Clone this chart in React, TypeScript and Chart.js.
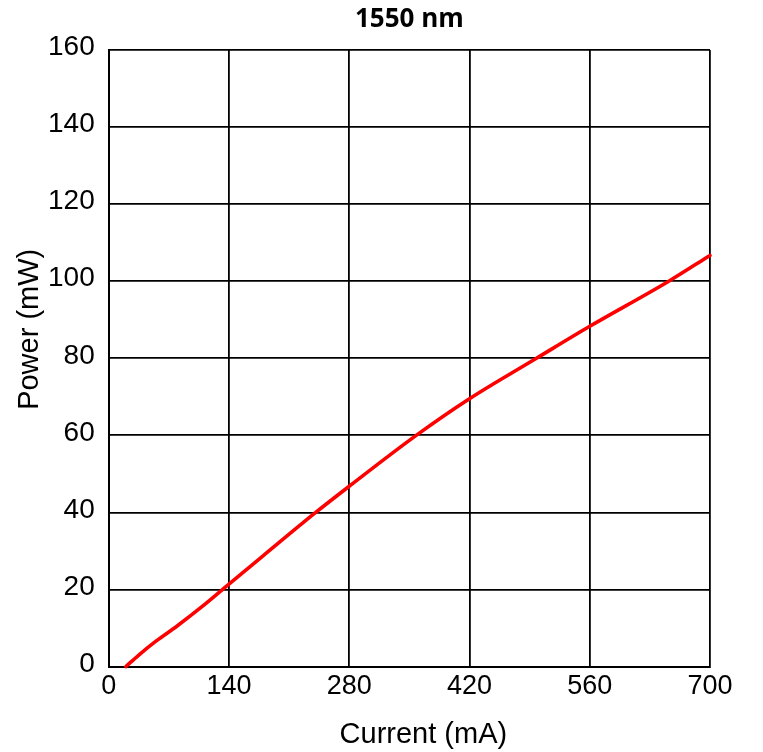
import React, { useEffect, useRef } from "react";
import { Chart, registerables } from "chart.js";

Chart.register(...registerables);

const currentMA = [20, 35, 55, 80, 110, 140, 180, 241, 280, 358, 420, 498, 560, 652, 700];
const powerMW = [0, 3, 6.6, 10.6, 15.8, 21.4, 28.8, 40, 46.8, 60, 69.5, 80, 88.3, 100, 106.7];
const xTicks = [0, 140, 280, 420, 560, 700];
const yTicks = [0, 20, 40, 60, 80, 100, 120, 140, 160];
const titleText = "1550 nm";
const xTitle = "Current (mA)";
const yTitle = "Power (mW)";

const FONT = "'Liberation Sans', Arial, sans-serif";

const axisTitles = {
  id: "axisTitles",
  afterDraw(chart: any) {
    const { ctx, chartArea } = chart;
    ctx.save();
    ctx.fillStyle = "#000";
    ctx.font = `29px ${FONT}`;
    ctx.textAlign = "center";
    ctx.textBaseline = "middle";
    const cx = (chartArea.left + chartArea.right) / 2 + 14;
    ctx.fillText(xTitle, cx, chart.height - 17);
    const cy = (chartArea.top + chartArea.bottom) / 2 - 29;
    ctx.translate(30, cy);
    ctx.rotate(-Math.PI / 2);
    ctx.fillText(yTitle, 0, 0);
    ctx.restore();
  },
};

export default function App() {
  const ref = useRef<HTMLCanvasElement | null>(null);
  useEffect(() => {
    if (!ref.current) return;
    const chart = new Chart(ref.current, {
      type: "line",
      data: {
        datasets: [
          {
            data: currentMA.map((x, i) => ({ x, y: powerMW[i] })),
            borderColor: "#ff0000",
            backgroundColor: "#ff0000",
            borderWidth: 3.6,
            borderCapStyle: "round",
            pointRadius: 0,
            tension: 0.4,
            cubicInterpolationMode: "monotone",
            fill: false,
            clip: 4,
          },
        ],
      },
      options: {
        animation: false,
        responsive: true,
        maintainAspectRatio: false,
        layout: { padding: { left: 34, right: 53, top: 0, bottom: 45 } },
        plugins: {
          legend: { display: false },
          tooltip: { enabled: false },
          title: {
            display: true,
            fullSize: false,
            text: titleText,
            color: "#000",
            font: { family: "'Open Sans', sans-serif", size: 26, weight: "bold" },
            padding: { top: 4, bottom: 14.8 },
          },
        },
        scales: {
          x: {
            type: "linear",
            min: 0,
            max: 700,
            afterBuildTicks: (s: any) => {
              s.ticks = xTicks.map((v) => ({ value: v }));
            },
            grid: { color: "#000", lineWidth: 1.8, drawTicks: false },
            border: { color: "#000", width: 2 },
            ticks: { color: "#000", font: { family: FONT, size: 27 }, padding: 4, maxRotation: 0 },
          },
          y: {
            type: "linear",
            min: 0,
            max: 160,
            afterBuildTicks: (s: any) => {
              s.ticks = yTicks.map((v) => ({ value: v }));
            },
            grid: { color: "#000", lineWidth: 1.8, drawTicks: false },
            border: { color: "#000", width: 2 },
            ticks: { color: "#000", font: { family: FONT, size: 28 }, padding: 14, labelOffset: -2.5 },
          },
        },
      },
      plugins: [axisTitles],
    });
    return () => chart.destroy();
  }, []);
  return (
    <div style={{ position: "absolute", left: 0, top: 0, width: 763, height: 752, background: "#fff" }}>
      <canvas ref={ref} />
    </div>
  );
}
